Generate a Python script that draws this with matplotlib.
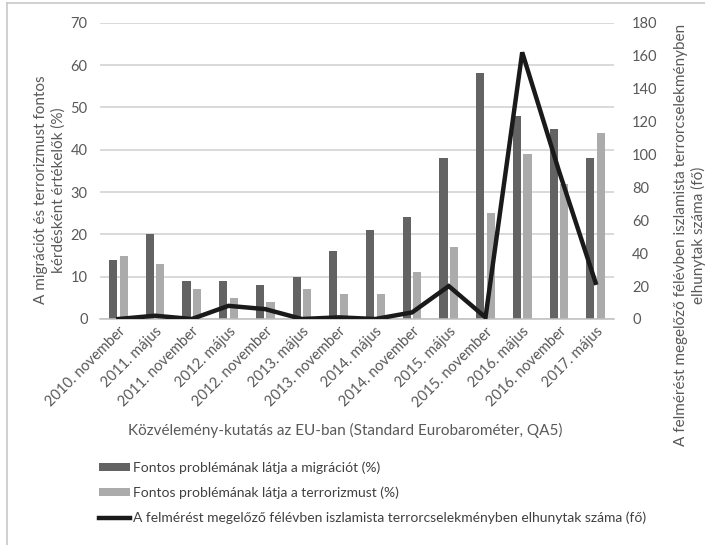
import matplotlib
matplotlib.use("Agg")
import matplotlib.pyplot as plt
from matplotlib.lines import Line2D
from matplotlib.patches import Patch
import numpy as np

categories = ["2010. november", "2011. május", "2011. november", "2012. május",
              "2012. november", "2013. május", "2013. november", "2014. május",
              "2014. november", "2015. május", "2015. november", "2016. május",
              "2016. november", "2017. május"]
migration = [14, 20, 9, 9, 8, 10, 16, 21, 24, 38, 58, 48, 45, 38]
terrorism = [15, 13, 7, 5, 4, 7, 6, 6, 11, 17, 25, 39, 32, 44]
deaths = [0, 2, 0, 8, 6, 0, 1, 0, 4, 20, 1, 162, 90, 22]

left_ticks = [0, 10, 20, 30, 40, 50, 60, 70]
right_ticks = [0, 20, 40, 60, 80, 100, 120, 140, 160, 180]

labels = ["Fontos problémának látja a migrációt (%)",
          "Fontos problémának látja a terrorizmust (%)",
          "A felmérést megelőző félévben iszlamista terrorcselekményben elhunytak száma (fő)"]

plt.rcParams['font.family'] = ['Lato', 'DejaVu Sans']
txt = '#595959'
c_mig = '#636363'
c_ter = '#ababab'
c_line = '#1a1a1a'

W, H = 705, 545
fig = plt.figure(figsize=(W/100, H/100), dpi=100)
ax = fig.add_axes([100/W, 1-319/H, 514/W, 296.3/H])

x = np.arange(len(categories))
bw = 0.22
ax.bar(x - 0.145, migration, width=bw, color=c_mig, zorder=2)
ax.bar(x + 0.145, terrorism, width=bw, color=c_ter, zorder=2)
ax.set_xlim(-0.5, len(categories) - 0.5)
ax.set_ylim(0, 70)
ax.set_yticks(left_ticks)
ax.yaxis.grid(True, color='#cfcfcf', linewidth=1.1, zorder=0)
ax.set_axisbelow(True)
for s in ['top', 'right', 'left']:
    ax.spines[s].set_visible(False)
ax.spines['bottom'].set_color('#bfbfbf')
ax.spines['bottom'].set_linewidth(1.1)
ax.tick_params(axis='y', length=0, labelsize=10.5, labelcolor=txt, pad=9)
ax.tick_params(axis='x', length=0, labelsize=10.5, labelcolor=txt, pad=4)
ax.set_xticks(x)
ax.set_xticklabels(categories, rotation=45, ha='right', rotation_mode='anchor')

ax2 = ax.twinx()
ax2.plot(x, deaths, color=c_line, linewidth=3.2, zorder=5, solid_joinstyle='miter')
ax2.set_ylim(0, 180)
ax2.set_yticks(right_ticks)
for s in ['top', 'right', 'left', 'bottom']:
    ax2.spines[s].set_visible(False)
ax2.tick_params(axis='y', length=0, labelsize=10.5, labelcolor=txt, pad=13)

fig.text(50/W, 1-190/H, "A migrációt és terrorizmust fontos\nkérdésként értékelők (%)",
         rotation=90, ha='center', va='center', fontsize=11, color=txt, linespacing=1.3)
fig.text(690/W, 1-235/H, "A felmérést megelőző félévben iszlamista terrorcselekményben\nelhunytak száma (fő)",
         rotation=90, ha='center', va='center', fontsize=11, color=txt, linespacing=1.3)
fig.text(345/W, 1-430/H, "Közvélemény-kutatás az EU-ban (Standard Eurobarométer, QA5)",
         ha='center', va='center', fontsize=11, color=txt)

handles = [Patch(facecolor=c_mig), Patch(facecolor=c_ter),
           Line2D([0], [0], color=c_line, linewidth=3.2)]
fig.legend(handles, labels, loc='upper left', bbox_to_anchor=(86/W, 1-449/H),
           frameon=False, fontsize=10, handlelength=2.3, handleheight=0.5,
           handletextpad=0.15, labelspacing=0.9, labelcolor='#404040')

fig.add_artist(Line2D([7/W, 7/W], [0, 1-3/H], transform=fig.transFigure, color='#c8c8c8', linewidth=1.2))
fig.add_artist(Line2D([7/W, 1], [1-3/H, 1-3/H], transform=fig.transFigure, color='#c8c8c8', linewidth=1.2))

fig.savefig("out.png", dpi=100)
